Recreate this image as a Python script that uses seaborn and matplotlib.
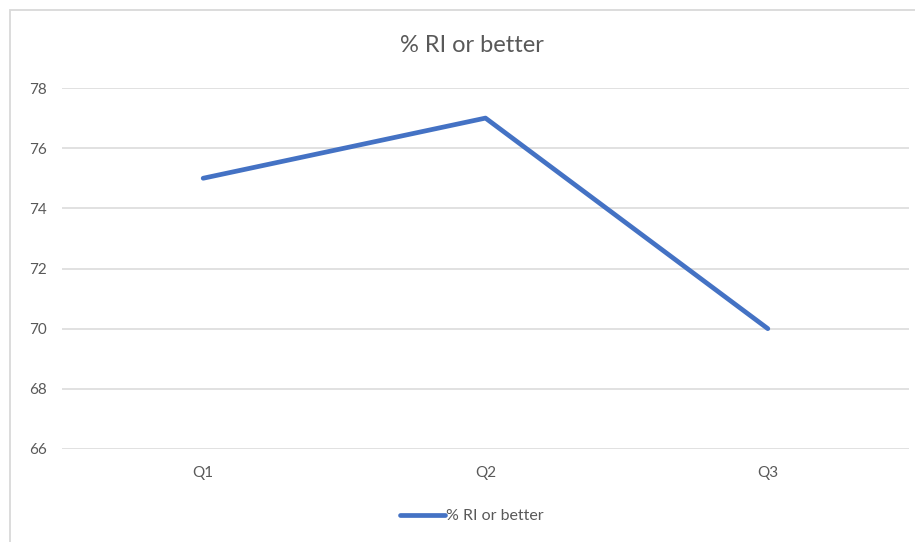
import matplotlib
matplotlib.use("Agg")
import matplotlib.pyplot as plt
from matplotlib.patches import Rectangle
import pandas as pd
import seaborn as sns

# data
quarters = ["Q1", "Q2", "Q3"]
pct_ri = [75, 77, 70]
series_name = "% RI or better"

df = pd.DataFrame({"quarter": quarters, series_name: pct_ri})

sns.set_theme(style="white")
plt.rcParams["font.family"] = ["Lato", "DejaVu Sans"]

fig = plt.figure(figsize=(9.15, 5.42), dpi=100)
ax = fig.add_axes([62 / 915, 1 - 449 / 542, 847 / 915, 361 / 542])

sns.lineplot(data=df, x="quarter", y=series_name, sort=False, color="#4472C4",
             linewidth=3.4, solid_capstyle="round", label=series_name, ax=ax)

ax.set_xlim(-0.5, 2.5)
ax.set_ylim(66, 78)
ax.set_yticks(range(66, 79, 2))
ax.grid(axis="y", color="#d9d9d9", linewidth=1.1)
ax.set_axisbelow(True)
for s in ax.spines.values():
    s.set_visible(False)
ax.tick_params(axis="both", length=0, labelsize=11, colors="#595959")
ax.tick_params(axis="y", pad=11)
ax.tick_params(axis="x", pad=12)
ax.set_xlabel("")
ax.set_ylabel("")

# title
fig.text(472 / 915, 1 - 46 / 542, series_name, ha="center", va="center",
         fontsize=17, color="#595959")

# legend at the bottom
ax.legend(loc="center", bbox_to_anchor=(472 / 915, 1 - 516 / 542),
          bbox_transform=fig.transFigure, frameon=False, fontsize=11.5,
          labelcolor="#595959", handlelength=2.8, handletextpad=0.1)

# chart border
fig.patches.append(Rectangle((10 / 915, -0.1), 1.0, 1 - 10 / 542 + 0.1,
                             transform=fig.transFigure, fill=False,
                             edgecolor="#d9d9d9", linewidth=1.3))

fig.savefig("out.png", dpi=100)
